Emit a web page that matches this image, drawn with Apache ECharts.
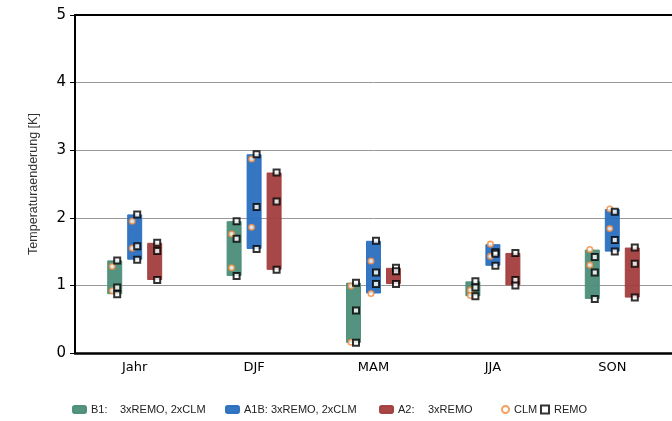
<!DOCTYPE html>
<html>
<head>
<meta charset="utf-8">
<script src="https://cdn.jsdelivr.net/npm/echarts@6/dist/echarts.min.js"></script>
<style>
  html, body { margin: 0; padding: 0; background: #fff; }
  #chart { width: 672px; height: 421px; }
</style>
</head>
<body>
<div id="chart"></div>
<script>
// Seasonal temperature change per scenario (K)
const categories = ['Jahr', 'DJF', 'MAM', 'JJA', 'SON'];
const yTicks = [0, 1, 2, 3, 4, 5];

// Individual model runs per season
const b1Remo  = [[1.37, 0.97, 0.87], [1.95, 1.69, 1.14], [1.04, 0.63, 0.15], [1.06, 0.97, 0.84], [1.42, 1.19, 0.80]];
const b1Clm   = [[1.28, 0.92], [1.76, 1.26], [0.99, 0.16], [0.93, 0.85], [1.53, 1.30]];
const a1bRemo = [[2.05, 1.58, 1.38], [2.94, 2.16, 1.54], [1.66, 1.19, 1.02], [1.49, 1.47, 1.29], [2.09, 1.67, 1.50]];
const a1bClm  = [[1.95, 1.55], [2.87, 1.86], [1.36, 0.88], [1.61, 1.43], [2.13, 1.84]];
const a2Remo  = [[1.63, 1.51, 1.08], [2.67, 2.24, 1.23], [1.26, 1.21, 1.02], [1.48, 1.08, 1.00], [1.56, 1.32, 0.82]];

const scenarioNames = ['B1', 'A1B', 'A2'];
const scenarioLabels = ['B1:', 'A1B:', 'A2:'];
const scenarioRuns = ['3xREMO, 2xCLM', '3xREMO, 2xCLM', '3xREMO'];
const scenarioColors = ['#4b8d79', '#2a6fbf', '#a33d3d'];

// Range of all runs per season (min..max) for each scenario
function ranges(...groups) {
  return categories.map((_, i) => {
    const vals = [].concat(...groups.map(g => g[i] || []));
    return [Math.min(...vals), Math.max(...vals)];
  });
}
const scenarioGroups = [[b1Remo, b1Clm], [a1bRemo, a1bClm], [a2Remo]];
const scenarioRanges = scenarioGroups.map(g => ranges(...g));

function points(runs) {
  const out = [];
  runs.forEach((arr, i) => arr.forEach(v => out.push([categories[i], v])));
  return out;
}

const barOffsets = [-20, 0, 20];
const series = [];
scenarioRanges.forEach((rg, s) => {
  series.push({
    type: 'bar', stack: 's' + s, silent: true,
    data: rg.map(r => r[0]),
    itemStyle: { color: 'transparent' },
    barWidth: 15, barGap: '33.3%'
  });
  series.push({
    name: scenarioNames[s], type: 'bar', stack: 's' + s,
    data: rg.map(r => +(r[1] - r[0]).toFixed(3)),
    itemStyle: { color: scenarioColors[s], borderColor: scenarioColors[s], borderWidth: 1, opacity: 0.95 },
    barWidth: 15, barGap: '33.3%'
  });
});

const clmStyle = { color: '#fff', borderColor: '#f28a3a', borderWidth: 1.6 };
const remoStyle = { color: '#fff', borderColor: '#000', borderWidth: 2 };
[[b1Clm, 0], [a1bClm, 1]].forEach(([runs, s]) => {
  series.push({
    name: 'CLM', type: 'scatter', data: points(runs), symbol: 'circle', symbolSize: 5.5,
    symbolOffset: [barOffsets[s] - 2.5, 0], itemStyle: clmStyle, z: 5
  });
});
[[b1Remo, 0], [a1bRemo, 1], [a2Remo, 2]].forEach(([runs, s]) => {
  series.push({
    name: 'REMO', type: 'scatter', data: points(runs), symbol: 'rect', symbolSize: 6,
    symbolOffset: [barOffsets[s] + 2.5, 0], itemStyle: remoStyle, z: 6
  });
});

// Legend: label column is given a fixed width so the run counts line up
const labelWidths = [29, 27, 30];
const legendFont = { fontFamily: 'Liberation Sans', fontSize: 11, color: '#222' };
function scenarioLegend(s, left) {
  return {
    left: left, top: 404, padding: 0, itemWidth: 13, itemHeight: 7, selectedMode: false,
    data: [scenarioNames[s]],
    formatter: () => '{h|' + scenarioLabels[s] + '}{r|' + scenarioRuns[s] + '}',
    textStyle: Object.assign({}, legendFont, {
      rich: { h: Object.assign({ width: labelWidths[s] }, legendFont), r: legendFont }
    })
  };
}
function markerLegend(name, left, size) {
  return {
    left: left, top: 404, padding: 0, itemWidth: size, itemHeight: size, selectedMode: false,
    data: [name], textStyle: legendFont
  };
}

const chart = echarts.init(document.getElementById('chart'), null, { renderer: 'canvas' });
chart.setOption({
  animation: false,
  backgroundColor: '#fff',
  grid: { left: 75, top: 15, width: 599, height: 338, containLabel: false },
  legend: [
    scenarioLegend(0, 72),
    scenarioLegend(1, 225),
    scenarioLegend(2, 379),
    markerLegend('CLM', 501, 7),
    markerLegend('REMO', 540, 8)
  ],
  xAxis: [{
    type: 'category', data: categories, boundaryGap: true,
    axisLine: { lineStyle: { color: '#000', width: 2.5 } },
    axisTick: { alignWithLabel: true, length: 5, lineStyle: { color: '#000', width: 1.5 } },
    axisLabel: { fontFamily: 'DejaVu Sans', fontSize: 13, color: '#000', margin: 8 },
    splitLine: { show: false }
  }, {
    type: 'category', data: categories, position: 'top',
    axisLine: { lineStyle: { color: '#000', width: 1.8 } },
    axisTick: { show: false }, axisLabel: { show: false }
  }],
  yAxis: {
    type: 'value', min: yTicks[0], max: yTicks[yTicks.length - 1], interval: 1,
    name: 'Temperaturaenderung [K]', nameLocation: 'middle', nameGap: 35,
    nameTextStyle: { fontFamily: 'Liberation Sans', fontSize: 12.5, color: '#333' },
    axisLine: { show: true, lineStyle: { color: '#000', width: 2 } },
    axisTick: { show: true, length: 5, lineStyle: { color: '#000', width: 1 } },
    axisLabel: { fontFamily: 'DejaVu Sans', fontSize: 15, color: '#000', margin: 9 },
    splitLine: { show: true, lineStyle: { color: '#999', width: 1 } }
  },
  series: series
});
</script>
</body>
</html>
